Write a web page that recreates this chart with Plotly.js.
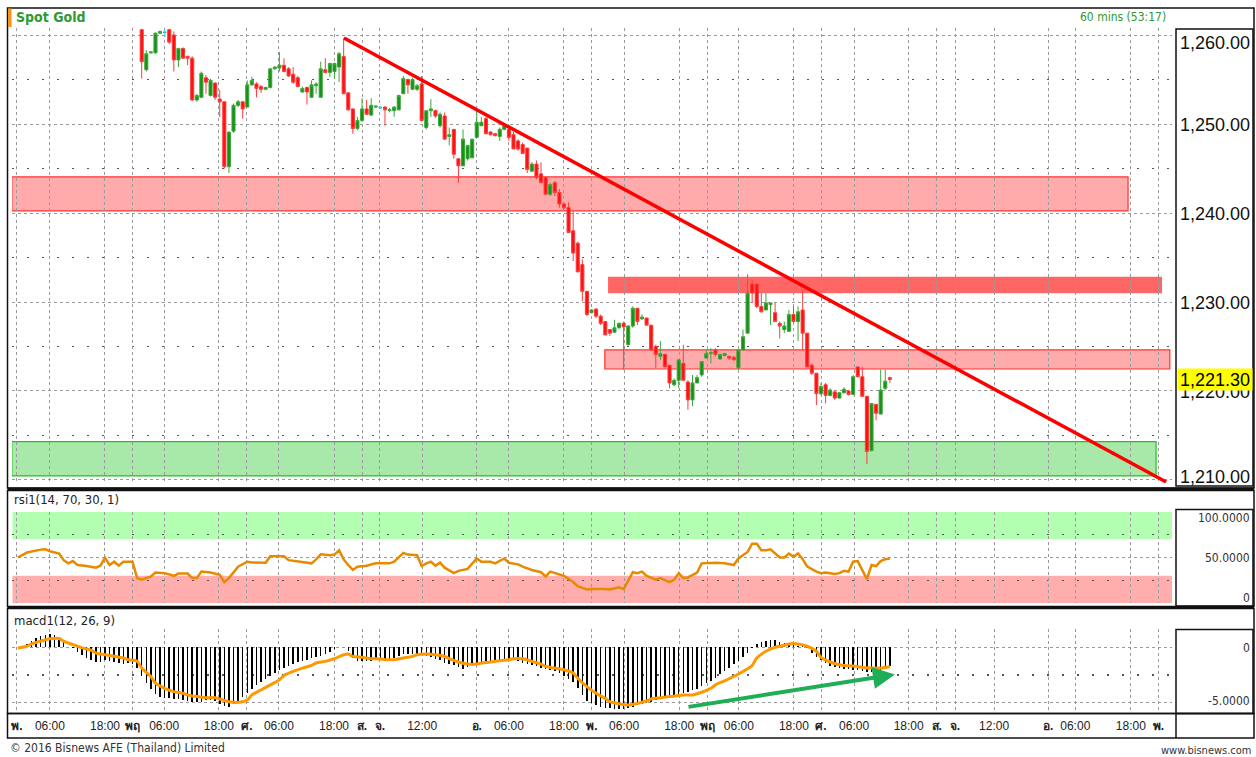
<!DOCTYPE html>
<html><head><meta charset="utf-8">
<script src="https://cdn.plot.ly/plotly-3.0.1.min.js"></script>
<style>html,body{margin:0;padding:0;background:#fff;}#chart{width:1256px;height:757px;}</style>
</head><body><div id="chart"></div>
<script>
// ---------- DATA ----------
// hourly candles, bar index 0..163
const candleOpen = [1260.6,1256.1,1258.0,1258.0,1260.2,1260.3,1260.6,1260.0,1257.2,1258.5,1257.6,1257.4,1252.7,1253.0,1255.2,1253.2,1254.6,1252.8,1252.5,1245.2,1249.2,1252.1,1252.5,1251.9,1254.4,1254.5,1254.2,1253.9,1254.1,1256.2,1256.3,1256.6,1256.2,1255.6,1255.2,1253.6,1254.1,1253.0,1254.3,1253.0,1256.1,1255.8,1255.9,1256.4,1257.6,1253.5,1251.7,1249.5,1250.4,1251.7,1251.0,1251.9,1251.85,1251.9,1251.5,1251.5,1251.6,1253.4,1255.0,1253.9,1253.9,1254.5,1249.6,1251.5,1251.5,1249.8,1250.9,1248.6,1249.4,1246.1,1245.3,1246.1,1246.2,1248.5,1249.8,1250.6,1249.1,1248.9,1248.6,1249.4,1249.4,1248.8,1248.1,1247.7,1247.3,1244.7,1245.5,1244.4,1244.0,1242.1,1243.4,1242.3,1241.0,1240.6,1238.0,1236.6,1234.2,1231.2,1228.8,1229.2,1228.4,1227.8,1226.9,1226.6,1227.1,1227.6,1225.2,1227.3,1229.3,1228.1,1228.2,1227.4,1225.0,1223.9,1224.1,1222.9,1220.7,1221.2,1223.1,1221.0,1219.0,1220.9,1221.8,1223.7,1224.2,1224.6,1223.6,1224.0,1223.9,1223.8,1222.6,1224.6,1226.5,1232.0,1232.0,1229.5,1229.1,1229.7,1228.8,1227.6,1226.9,1226.7,1228.6,1227.8,1229.1,1226.5,1222.9,1222.0,1219.7,1220.7,1219.5,1219.9,1219.2,1219.8,1220.0,1219.6,1222.7,1221.6,1219.4,1213.3,1218.5,1217.4,1220.3,1221.5];
const candleHigh = [1260.7,1258.3,1258.2,1260.3,1260.5,1260.6,1260.7,1260.4,1258.5,1258.6,1257.7,1257.6,1253.4,1255.9,1255.5,1255.1,1254.7,1253.8,1252.5,1249.1,1252.3,1252.7,1252.5,1254.9,1255.3,1254.7,1254.4,1254.2,1256.3,1256.5,1258.1,1257.4,1256.4,1256.4,1255.4,1254.2,1254.2,1254.9,1254.7,1257.0,1257.4,1256.9,1256.9,1258.1,1259.6,1253.5,1251.7,1250.8,1252.9,1252.7,1252.9,1252.1,1252.0,1252.0,1251.8,1252.0,1253.3,1255.4,1255.1,1255.2,1254.5,1255.4,1251.5,1252.8,1251.6,1251.3,1251.3,1249.6,1249.4,1246.1,1249.4,1247.6,1248.3,1251.5,1250.8,1250.8,1249.2,1249.0,1249.6,1250.0,1249.6,1249.1,1248.3,1247.9,1247.3,1245.7,1245.9,1245.7,1244.0,1243.4,1243.6,1242.7,1241.2,1241.2,1240.2,1236.8,1234.8,1231.2,1229.2,1229.3,1228.6,1227.8,1226.9,1228.0,1227.7,1227.8,1227.4,1229.5,1229.3,1228.6,1228.2,1227.4,1225.2,1225.6,1224.2,1222.9,1221.4,1223.5,1225.2,1221.2,1221.8,1221.8,1223.3,1224.6,1224.8,1224.8,1224.2,1224.3,1223.9,1223.9,1224.6,1226.9,1233.1,1232.5,1232.1,1231.0,1231.0,1229.9,1229.9,1227.8,1227.8,1229.1,1229.5,1229.5,1231.4,1226.5,1223.1,1222.0,1220.9,1220.9,1220.3,1220.1,1219.9,1220.4,1220.1,1221.8,1222.8,1222.7,1219.4,1218.6,1218.5,1222.4,1222.4,1221.6];
const candleLow = [1255.1,1255.9,1257.9,1257.9,1260.1,1259.8,1259.0,1255.9,1256.4,1257.3,1256.6,1252.6,1252.5,1252.9,1253.4,1253.1,1252.7,1250.8,1245.0,1244.5,1249.0,1251.9,1250.6,1251.9,1254.3,1253.0,1253.5,1253.8,1254.0,1256.1,1255.9,1255.8,1255.3,1254.5,1254.2,1253.5,1252.2,1253.0,1253.4,1253.0,1255.7,1255.3,1255.1,1254.7,1253.4,1251.5,1248.9,1249.3,1250.2,1251.0,1250.9,1251.8,1251.7,1249.8,1251.3,1250.8,1251.5,1253.4,1253.4,1253.8,1253.7,1250.3,1249.4,1250.8,1250.7,1249.6,1248.3,1247.6,1246.1,1243.4,1245.3,1245.9,1246.2,1248.5,1249.8,1248.9,1248.7,1248.6,1248.1,1249.3,1248.1,1247.2,1247.0,1246.6,1244.5,1244.6,1243.8,1243.4,1242.1,1241.9,1241.9,1240.6,1240.4,1237.8,1234.6,1233.3,1230.1,1228.4,1228.7,1228.2,1227.4,1226.3,1226.2,1226.6,1227.0,1222.4,1225.1,1227.1,1227.4,1228.0,1227.4,1224.6,1222.6,1223.5,1222.7,1220.3,1220.5,1220.3,1221.2,1217.9,1218.3,1220.9,1221.6,1223.7,1223.1,1223.9,1223.5,1223.9,1223.5,1223.4,1222.4,1224.6,1226.5,1229.9,1229.3,1228.8,1229.1,1227.4,1227.8,1225.9,1226.5,1226.7,1227.8,1225.6,1224.6,1222.7,1221.8,1218.4,1219.5,1218.6,1219.4,1219.0,1219.2,1219.7,1219.5,1219.6,1221.6,1219.4,1211.8,1213.2,1216.7,1217.4,1220.1,1220.9];
const candleClose = [1257.0,1257.9,1258.1,1260.2,1260.4,1260.3,1259.2,1257.2,1258.5,1257.4,1257.4,1252.7,1253.2,1255.7,1254.7,1254.9,1253.0,1252.5,1245.2,1249.1,1252.1,1252.5,1251.7,1254.4,1254.9,1254.0,1253.9,1254.1,1256.2,1256.4,1256.6,1255.9,1255.4,1254.7,1254.2,1254.0,1253.6,1254.4,1254.5,1256.2,1255.8,1256.8,1256.8,1257.9,1253.4,1251.6,1249.5,1250.4,1251.7,1251.1,1252.1,1252.0,1251.85,1251.6,1251.6,1251.9,1253.2,1255.1,1254.4,1255.0,1254.3,1250.4,1251.5,1251.7,1250.9,1251.1,1248.3,1248.8,1246.6,1245.3,1248.3,1247.6,1248.3,1250.2,1250.2,1248.9,1248.8,1248.7,1249.4,1249.8,1248.5,1247.2,1247.2,1246.7,1244.9,1245.5,1244.0,1243.4,1242.1,1243.2,1242.3,1241.0,1240.6,1237.8,1235.5,1233.4,1231.2,1228.6,1229.1,1228.4,1227.6,1226.3,1226.5,1227.1,1227.6,1227.2,1227.3,1229.3,1227.8,1228.3,1227.4,1224.6,1224.1,1224.2,1222.7,1220.9,1221.2,1223.5,1221.2,1219.0,1220.9,1221.5,1223.3,1224.2,1224.3,1224.1,1224.1,1224.2,1223.7,1223.5,1224.6,1226.1,1231.0,1231.0,1229.5,1228.9,1229.9,1229.9,1227.8,1227.3,1227.3,1228.6,1227.8,1228.9,1226.5,1222.7,1222.0,1219.7,1220.5,1219.5,1220.1,1219.2,1219.8,1220.2,1219.6,1221.6,1221.6,1219.4,1213.2,1218.6,1217.5,1220.1,1221.1,1221.3];
const lastPrice = 1221.30;
const priceTicks = [1210,1220,1230,1240,1250,1260];
const priceHalfTicks = [1215,1225,1235,1245,1255];

// RSI(14) line: bar index, value
const rsiBar = [-27,-25,-22,-21,-20,-18,-17,-16,-15,-14,-12,-10,-9,-8,-7,-6,-5,-4,-2,-1,0,2,3,5,7,8,10,11,12,13,15,17,18,19,21,23,24,27,28,31,32,34,36,37,38,39,41,42,43,44,45,46,47,49,51,54,55,56,57,58,60,61,62,63,64,65,66,68,69,71,73,74,76,77,79,80,82,83,85,87,88,89,91,92,94,95,97,98,101,102,104,105,107,108,109,110,112,113,115,116,117,118,119,121,122,124,125,127,129,130,132,133,134,135,136,137,138,139,140,141,142,143,144,145,147,148,149,151,152,153,154,155,156,157,158,159,160,161,162,163];
const rsiValue = [50.0,55.4,58.6,58.9,56.8,54.3,47.1,43.6,46.1,41.8,40.7,38.9,41.1,49.6,41.8,45.4,41.1,45.4,45.4,27.5,25.7,29.3,33.6,32.9,30.0,32.5,32.5,27.5,27.5,34.6,33.6,31.1,23.2,27.5,40.0,45.4,44.6,44.3,51.4,51.4,47.1,45.4,44.3,43.6,47.9,53.6,52.5,53.2,57.9,47.9,41.8,36.4,40.0,41.1,43.6,43.6,45.4,50.0,55.0,53.2,52.5,40.7,43.6,45.4,41.1,44.3,38.9,32.9,35.4,37.5,48.9,45.4,45.4,43.6,48.9,44.3,42.5,40.0,36.4,33.9,29.3,34.6,31.1,30.0,23.2,18.6,15.0,15.7,15.7,15.0,17.5,15.5,33.9,32.9,34.6,30.0,25.7,27.5,23.2,25.7,32.9,27.5,28.2,33.6,43.6,44.3,44.3,43.6,41.8,48.9,56.1,65.0,65.0,57.9,57.9,58.9,54.3,50.0,50.0,54.3,50.7,54.3,48.2,40.0,34.6,32.9,33.6,32.1,32.9,35.4,34.6,45.4,46.1,36.4,26.4,41.8,40.7,46.1,48.2,48.9];
const rsiOverbought = [70,100];
const rsiOversold = [0,30];

// MACD(12,26,9): histogram per bar from bar -27 to 163, and signal line points
const macdFirstBar = -27;
const macdHist = [0.0,0.12,0.30,0.55,0.85,1.05,1.15,1.21,1.12,0.90,0.45,0.05,-0.10,-0.40,-0.70,-0.95,-1.15,-1.30,-1.33,-1.15,-1.20,-1.30,-1.45,-1.52,-1.45,-1.50,-1.90,
-2.60,-3.20,-3.80,-4.20,-4.45,-4.58,-4.62,-4.65,-4.68,-4.72,-4.85,-4.92,-4.97,-4.92,-4.80,-4.78,-4.88,-5.10,-5.30,-5.36,-5.15,-4.85,-4.45,-4.10,-3.75,-3.40,-3.10,-2.85,-2.55,-2.30,-2.05,-1.85,-1.65,-1.50,-1.35,-1.22,-1.12,-1.00,-0.88,-0.75,-0.65,-0.40,-0.18,-0.02,0.0,-0.36,-0.95,-1.20,-1.27,-1.25,-1.20,-1.15,-1.12,-1.12,-1.02,-0.95,-0.82,-0.65,-0.63,-0.62,-0.65,-0.73,-0.80,-0.92,-1.05,-1.12,-1.40,-1.55,-1.62,-1.82,-1.94,-1.75,-1.55,-1.42,-1.42,-1.30,-1.25,-1.21,-1.27,-1.05,-1.08,-1.15,-1.27,-1.40,-1.50,-1.60,-1.73,-1.85,-1.95,-2.05,-2.18,-2.30,-2.55,-2.85,-3.15,-3.70,-4.30,-4.85,-5.05,-5.20,-5.36,-5.45,-5.52,-5.58,-5.60,-5.55,-5.45,-5.36,-5.21,-5.10,-5.00,-4.91,-4.80,-4.70,-4.60,-4.52,-4.45,-4.32,-4.15,-4.00,-3.85,-3.75,-3.50,-3.25,-3.03,-2.75,-2.40,-2.10,-1.88,-1.55,-1.25,-0.85,-0.50,-0.10,0.25,0.45,0.55,0.68,0.65,0.50,0.39,0.32,0.22,0.15,0.08,-0.06,-0.55,-0.90,-1.12,-1.45,-1.65,-1.78,-1.88,-1.95,-2.00,-2.05,-2.09,-2.15,-2.25,-2.27,-2.20,-2.03,-1.85,-1.70];
const signalBar = [-27,-25,-24,-22,-20,-18,-17,-15,-13,-11,-10,-8,-6,-4,-3,-1,0,2,3,5,7,9,10,12,14,16,17,19,21,23,24,26,28,30,31,33,35,37,38,40,42,44,45,46,48,50,52,53,55,57,59,60,62,64,66,67,69,71,73,74,76,78,80,81,83,85,87,88,90,92,94,95,97,99,101,102,104,106,108,110,111,113,115,117,118,120,122,124,125,127,129,131,133,134,136,138,140,141,143,145,147,148,150,152,154,156,157,159,161,163];
const signalValue = [-0.06,0.09,0.30,0.55,0.76,0.79,0.55,0.24,-0.06,-0.27,-0.52,-0.67,-0.82,-0.97,-1.12,-1.27,-1.88,-2.64,-3.24,-3.70,-4.00,-4.15,-4.30,-4.45,-4.55,-4.55,-4.67,-4.91,-4.97,-4.76,-4.30,-3.85,-3.39,-2.94,-2.55,-2.18,-1.88,-1.64,-1.42,-1.27,-1.03,-0.67,-0.61,-0.82,-0.91,-1.03,-1.06,-1.12,-1.12,-0.97,-0.82,-0.67,-0.61,-0.67,-0.82,-1.03,-1.33,-1.52,-1.52,-1.42,-1.33,-1.21,-1.12,-1.03,-1.03,-1.27,-1.52,-1.73,-1.88,-2.03,-2.33,-2.79,-3.55,-4.15,-4.61,-4.91,-5.10,-5.21,-5.06,-4.85,-4.67,-4.55,-4.45,-4.36,-4.30,-4.30,-4.06,-3.70,-3.39,-3.03,-2.64,-2.18,-1.64,-0.97,-0.36,0.0,0.18,0.30,0.30,0.09,-0.36,-0.91,-1.33,-1.58,-1.67,-1.73,-1.82,-1.88,-1.88,-1.73];

// time axis labels (bar position of each label)
const tickPos = [-27.2,-20.0,-8.0,-1.9,4.9,16.8,22.9,29.9,41.9,48.0,51.9,61.1,73.0,80.0,92.0,98.1,105.1,117.1,123.2,130.1,142.1,148.0,155.2,167.1,173.2,177.2,185.7,197.5,203.4,215.5,221.5];
const tickText = ['พ.','06:00','18:00','พฤ','06:00','18:00','ศ.','06:00','18:00','ส.','จ.','12:00','อ.','06:00','18:00','พ.','06:00','18:00','พฤ','06:00','18:00','ศ.','06:00','18:00','ส.','จ.','12:00','อ.','06:00','18:00','พ.'];

// drawn zones (support / resistance) and trend line
const zoneX0   = [-28.3, 101.6, 100.9, -28.3];
const zoneX1   = [214.9, 222.3, 224.0, 221.0];
const zoneLow  = [1240.25, 1230.98, 1222.47, 1210.45];
const zoneHigh = [1244.05, 1232.84, 1224.61, 1214.31];
const zoneFill = ['rgba(255,0,0,0.33)','rgba(255,0,0,0.6)','rgba(255,0,0,0.33)','rgba(0,187,0,0.34)'];
const zoneLine = ['#ff3030','rgba(0,0,0,0)','#ff3030','#22c022'];
const trendX = [44.07, 223.2];
const trendY = [1259.66, 1209.78];
const arrowX = [118.8, 164.1];
const arrowY = [-5.4, -2.45];

// ---------- LAYOUT HELPERS ----------
const W = 1256, H = 757;
const PX = x => x / W, PY = y => 1 - y / H;
const font = 'Liberation Sans, Arial, sans-serif';
const narrow = 'Liberation Sans Narrow, DejaVu Sans Condensed, Liberation Sans, Arial, sans-serif';
const xRange = [-28.26, 224.47];
const xDom = [PX(12), PX(1172)];
const gridCol = '#9a9a9a';
const dashCol = '#555555';

const idx = candleOpen.map((_, i) => i);
const macdBars = macdHist.map((_, i) => macdFirstBar + i);

// doji candles (open == close) drawn in cyan
const dojiX = [], dojiY = [];
idx.forEach(i => { if (candleOpen[i] === candleClose[i]) { dojiX.push(i, i, null); dojiY.push(candleLow[i], candleHigh[i], null); } });

const traces = [
  {type:'candlestick', x: idx, open: candleOpen, high: candleHigh, low: candleLow, close: candleClose,
   xaxis:'x', yaxis:'y', whiskerwidth: 0,
   increasing:{line:{color:'#3aa83a', width:1}, fillcolor:'#189018'},
   decreasing:{line:{color:'#ff3a3a', width:1}, fillcolor:'#ff1010'},
   hoverinfo:'skip'},
  {type:'scatter', mode:'lines', x: dojiX, y: dojiY, xaxis:'x', yaxis:'y',
   line:{color:'#40e0f0', width:1.5}, hoverinfo:'skip'},
  {type:'scatter', mode:'lines', x: rsiBar, y: rsiValue, xaxis:'x2', yaxis:'y2',
   line:{color:'#e88a00', width:2.5}, hoverinfo:'skip'},
  {type:'bar', x: macdBars, y: macdHist, xaxis:'x3', yaxis:'y3', width: 0.33,
   marker:{color:'#000000', line:{width:0}}, hoverinfo:'skip'},
  {type:'scatter', mode:'lines', x: signalBar, y: signalValue, xaxis:'x3', yaxis:'y3',
   line:{color:'#ff9900', width:3, shape:'spline', smoothing:0.8}, hoverinfo:'skip'}
];

function xAxis(anchor, labels) {
  return {domain: xDom, range: xRange, anchor: anchor, type:'linear',
    tickmode:'array', tickvals: tickPos,
    ticktext: tickText.map(t => /[\u0E00-\u0E7F]/.test(t) ? '<b>' + t + '</b>' : t),
    showticklabels: labels, ticks:'', ticklabelstandoff: 4,
    tickfont:{family: font, size: 12, color:'#222'},
    showgrid:true, gridcolor: gridCol, griddash:'dot', gridwidth:1,
    zeroline:false, showline:false, fixedrange:true,
    rangeslider:{visible:false}};
}

const shapes = [];
// zones
zoneX0.forEach((x0, k) => shapes.push({type:'rect', xref:'x', yref:'y', x0: x0, x1: zoneX1[k], y0: zoneLow[k], y1: zoneHigh[k],
  fillcolor: zoneFill[k], line:{color: zoneLine[k], width: 1.2}, layer:'below'}));
// RSI bands
shapes.push({type:'rect', xref:'paper', yref:'y2', x0: PX(12.5), x1: PX(1172), y0: rsiOverbought[0], y1: rsiOverbought[1], fillcolor:'rgba(0,255,0,0.3)', line:{width:0}, layer:'below'});
shapes.push({type:'rect', xref:'paper', yref:'y2', x0: PX(12.5), x1: PX(1172), y0: rsiOversold[0], y1: rsiOversold[1], fillcolor:'rgba(255,0,0,0.32)', line:{width:0}, layer:'below'});
// trend line
shapes.push({type:'line', xref:'x', yref:'y', x0: trendX[0], x1: trendX[1], y0: trendY[0], y1: trendY[1],
  line:{color:'#ff0000', width:3.5}, layer:'above'});
// frames
function box(x0, y0, x1, y1, w) {
  shapes.push({type:'rect', xref:'paper', yref:'paper', x0: PX(x0), x1: PX(x1), y0: PY(y1), y1: PY(y0),
    line:{color:'#111', width: w || 1.5}, fillcolor:'rgba(0,0,0,0)', layer:'above'});
}
function hline(x0, x1, y, w) {
  shapes.push({type:'line', xref:'paper', yref:'paper', x0: PX(x0), x1: PX(x1), y0: PY(y), y1: PY(y), line:{color:'#111', width: w}, layer:'above'});
}
box(7.5, 8, 1254, 488);
box(1176, 29, 1253, 486);
hline(7.5, 1254, 489, 3);
box(7.5, 490.5, 1254, 606.5);
box(1176, 509.5, 1253, 606);
hline(7.5, 1254, 607.5, 2.5);
box(7.5, 608.5, 1254, 713.5);
box(1176, 629.5, 1253, 713.5);
box(7.5, 713.5, 1254, 738);
shapes.push({type:'line', xref:'paper', yref:'paper', x0: PX(1176), x1: PX(1176), y0: PY(713.5), y1: PY(738), line:{color:'#111', width:1.5}, layer:'above'});
// orange header tag
shapes.push({type:'rect', xref:'paper', yref:'paper', x0: PX(8), x1: PX(11.5), y0: PY(27), y1: PY(8.5), fillcolor:'#f7941d', line:{width:0}, layer:'above'});

function txt(text, x, y, xanchor, size, color, fam, extra) {
  return Object.assign({text: text, xref:'paper', yref:'paper', x: PX(x), y: PY(y), xanchor: xanchor, yanchor:'middle',
    showarrow:false, font:{family: fam || font, size: size, color: color}}, extra || {});
}
const fmt2 = v => v.toLocaleString('en-US', {minimumFractionDigits:2, maximumFractionDigits:2});

const annotations = [
  txt('<b>Spot Gold</b>', 14, 17.5, 'left', 14, '#2e9a2e', narrow),
  txt('60 mins (53:17)', 1168, 17.5, 'right', 12, '#2e9a2e', narrow),
  txt('rsi1(14, 70, 30, 1)', 12, 499.5, 'left', 13, '#222', narrow),
  txt('macd1(12, 26, 9)', 12, 620, 'left', 13, '#222', narrow),
  txt('100.0000', 1252, 518, 'right', 12, '#333', narrow),
  txt('50.0000', 1252, 557.5, 'right', 12, '#333', narrow),
  txt('0', 1252, 597.5, 'right', 12, '#333', narrow),
  txt('0', 1252, 647.5, 'right', 12, '#333', narrow),
  txt('-5.0000', 1252, 700.5, 'right', 12, '#333', narrow),
  txt('© 2016 Bisnews AFE (Thailand) Limited', 8, 748, 'left', 12, '#333', narrow),
  txt('www.bisnews.com', 1254, 750, 'right', 11, '#333', narrow)
];
// price scale labels (placed on the price axis scale, kept inside their box)
priceTicks.forEach(v => annotations.push({text: fmt2(v), xref:'paper', yref:'y', x: PX(1252), y: v,
  xanchor:'right', yanchor:'middle', showarrow:false, yshift: v === 1260 ? -8 : (v === 1210 ? 3 : -1),
  font:{family: font, size: 18, color:'#111'}}));
// current price tag
annotations.push({text: fmt2(lastPrice), xref:'paper', yref:'y', x: PX(1214.5), y: lastPrice, xanchor:'center', yanchor:'middle', showarrow:false,
   bgcolor:'#ffff00', width: 74, height: 21, borderpad: 0, font:{family: font, size: 18, color:'#000'}});
// divergence arrow on MACD
annotations.push({text:'', xref:'x3', yref:'y3', axref:'x3', ayref:'y3', x: arrowX[1], y: arrowY[1], ax: arrowX[0], ay: arrowY[0],
   showarrow:true, arrowhead:2, arrowsize:1.1, arrowwidth:4, arrowcolor:'#1fae55', standoff:0});

const layout = {
  width: W, height: H, margin:{l:0, r:0, t:0, b:0},
  paper_bgcolor:'#ffffff', plot_bgcolor:'#ffffff', showlegend:false, hovermode:false,
  boxgap: 0.33, boxgroupgap: 0, bargap: 0,
  xaxis: xAxis('y', false),
  xaxis2: Object.assign(xAxis('y2', false), {matches:'x'}),
  xaxis3: Object.assign(xAxis('y3', true), {matches:'x'}),
  yaxis: {domain:[PY(483), PY(28)], range:[1209.66, 1260.79], anchor:'x', side:'right',
    tickmode:'array', tickvals: priceTicks, showticklabels:false, ticks:'',
    showgrid:true, gridcolor: gridCol, griddash:'dot', gridwidth:1,
    minor:{tickmode:'array', tickvals: priceHalfTicks, showgrid:true, gridcolor: dashCol, griddash:'2px,13px', gridwidth:1.3},
    zeroline:false, showline:false, fixedrange:true},
  yaxis2: {domain:[PY(603.3), PY(511.7)], range:[0,100], anchor:'x2', side:'right',
    tickmode:'array', tickvals:[0,50,100], showticklabels:false, ticks:'',
    showgrid:true, gridcolor: gridCol, griddash:'dot', gridwidth:1,
    minor:{tickmode:'array', tickvals:[25,75], showgrid:true, gridcolor: dashCol, griddash:'2px,13px', gridwidth:1.3},
    zeroline:false, showline:false, fixedrange:true},
  yaxis3: {domain:[PY(713), PY(629.3)], range:[-5.93, 1.62], anchor:'x3', side:'right',
    tickmode:'array', tickvals:[-5,0], showticklabels:false, ticks:'',
    showgrid:true, gridcolor: gridCol, griddash:'dot', gridwidth:1,
    minor:{tickmode:'array', tickvals:[-2.5], showgrid:true, gridcolor: dashCol, griddash:'2px,13px', gridwidth:1.3},
    zeroline:false, showline:false, fixedrange:true},
  shapes: shapes,
  annotations: annotations
};

Plotly.newPlot('chart', traces, layout, {staticPlot:true, displayModeBar:false});
</script>
</body></html>
